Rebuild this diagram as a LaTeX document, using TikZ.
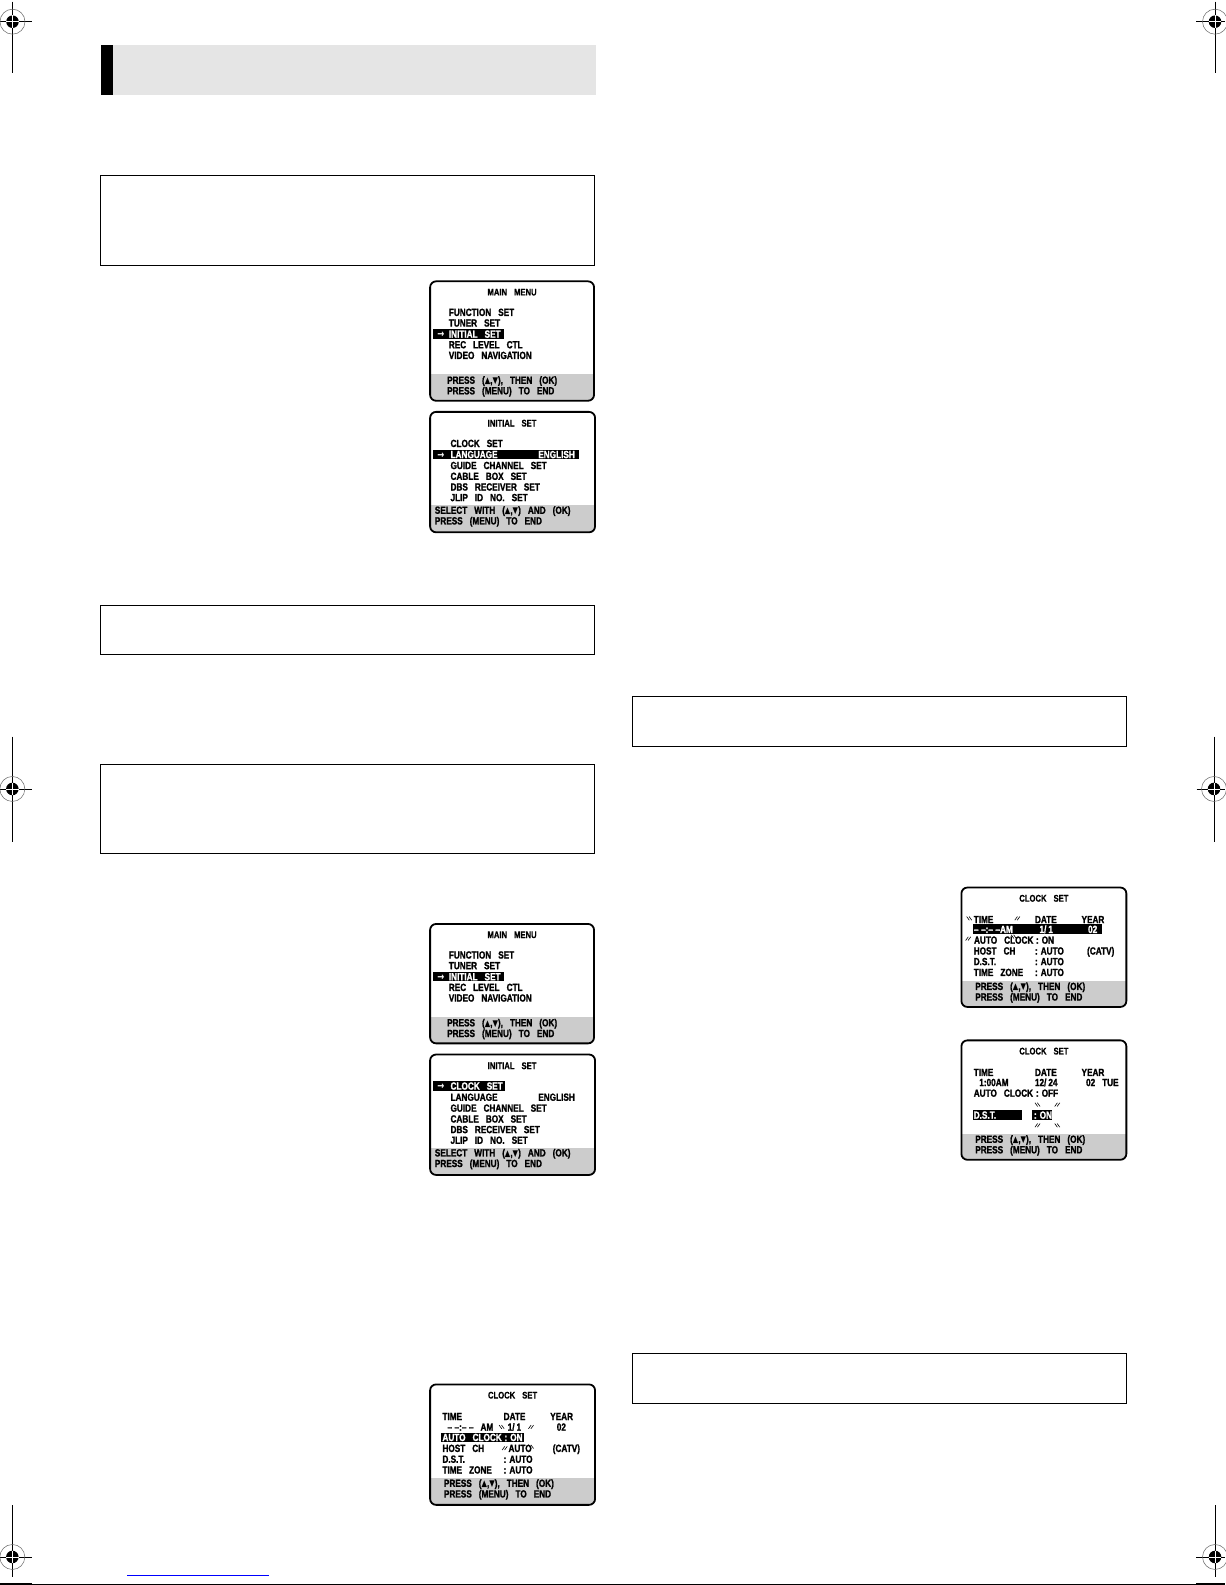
\documentclass[tikz,border=0pt]{standalone}
\usepackage{fontspec}
\usepackage{graphicx}
\newfontfamily\osdfont{Liberation Sans}[FakeStretch=0.79, BoldFeatures={FakeBold=1.4}]
\newfontfamily\osdtitlefont{Liberation Sans}[FakeStretch=0.79, BoldFeatures={FakeBold=0.6}]
\newfontfamily\osdsymfont{DejaVu Sans}[FakeStretch=0.8]

\newcommand{\osdup}{{\osdsymfont\scalebox{0.85}{▲}}}
\newcommand{\osddown}{{\osdsymfont\scalebox{0.85}{▼}}}
\newcommand{\osdarrow}{{\osdsymfont →}}
\newcommand{\osdwide}{\spaceskip=7pt\relax}

\tikzset{
  screen/.style={draw, line width=1.8pt, rounded corners=6pt},
  band/.style={fill=black!20},
  osd/.style={anchor=west, inner sep=0pt, text height=7.5pt, text depth=0pt,
    font=\osdfont\bfseries\fontsize{10.4}{11}\selectfont\osdwide},
  osdhi/.style={osd, text=white},
  osdband/.style={osd},
  osdtitle/.style={inner sep=0pt, text height=7pt, text depth=0pt,
    font=\osdtitlefont\bfseries\fontsize{9.7}{11}\selectfont\osdwide},
  textbox/.style={draw, line width=0.9pt},
  blink/.style={line width=0.6pt},
}

% screen outline with the gray help band at its foot
\newcommand{\screenframe}[3]{%
  \fill[white, rounded corners=6pt] (0,0) rectangle (#1,#2);
  \begin{scope}
    \clip[rounded corners=6pt] (0,0) rectangle (#1,#2);
    \fill[band] (0,#3) rectangle (#1,#2);
  \end{scope}
  \draw[screen] (0,0) rectangle (#1,#2);
}

% blinking marks
\newcommand{\blinkbs}[2]{\draw[blink] ({#1-2.8},{#2-1.8}) -- ({#1-0.2},{#2+1.8})
  ({#1-0.4},{#2-1.8}) -- ({#1+2.2},{#2+1.8});}
\newcommand{\blinksl}[2]{\draw[blink] ({#1-2.8},{#2+1.8}) -- ({#1-0.2},{#2-1.8})
  ({#1-0.4},{#2+1.8}) -- ({#1+2.2},{#2-1.8});}

% registration mark: centre, vertical from/to, horizontal from/to
\newcommand{\regmark}[6]{%
  \draw[line width=0.7pt] (#1,#3) -- (#1,#4) (#5,#2) -- (#6,#2);
  \draw[black!60, line width=0.5pt] (#1,#2) circle (12.35);
  \fill (#1,#2) circle (6.2);
  \draw[white, line width=0.6pt] ({#1-6.2},#2) -- ({#1+6.2},#2) (#1,{#2-6.2}) -- (#1,{#2+6.2});
}

\newcommand{\mainmenu}{%
  \screenframe{162}{118}{91.5}
  \fill (2.7,47.3) rectangle (72.7,56.7);
  \node[osdtitle] (title) at (81,10.5) {MAIN MENU};
  \node[osd] (func) at (18.3,30.5) {FUNCTION SET};
  \node[osd] (tuner) at (18.3,41) {TUNER SET};
  \node[osdhi] (arrow) at (7,52) {\osdarrow};
  \node[osdhi] (initial) at (18.3,52) {INITIAL SET};
  \node[osd] (rec) at (18.3,62.5) {REC LEVEL CTL};
  \node[osd] (video) at (18.3,73) {VIDEO NAVIGATION};
  \node[osdband] (press) at (16.7,97.5) {PRESS (\osdup,\osddown), THEN (OK)};
  \node[osdband] (menu) at (16.7,108) {PRESS (MENU) TO END};
}

\newcommand{\initialset}[1]{%
  \screenframe{163}{119}{92}
  \ifnum#1=1
    \fill (2.7,26.3) rectangle (74,35.7);
    \colorlet{rowA}{white}\colorlet{rowB}{black}
    \node[osdhi] (arrow) at (7,31) {\osdarrow};
  \else
    \fill (2.7,37.3) rectangle (146.7,46.7);
    \colorlet{rowA}{black}\colorlet{rowB}{white}
    \node[osdhi] (arrow) at (7,42) {\osdarrow};
  \fi
  \node[osdtitle] (title) at (81,11) {INITIAL SET};
  \node[osd, text=rowA] (clock) at (20,31) {CLOCK SET};
  \node[osd, text=rowB] (lang) at (20,42) {LANGUAGE};
  \node[osd, text=rowB] (english) at (106.7,42) {ENGLISH};
  \node[osd] (guide) at (20,52.8) {GUIDE CHANNEL SET};
  \node[osd] (cable) at (20,63.5) {CABLE BOX SET};
  \node[osd] (dbs) at (20,74) {DBS RECEIVER SET};
  \node[osd] (jlip) at (20,84.5) {JLIP ID NO. SET};
  \node[osdband] (select) at (4.5,97) {SELECT WITH (\osdup,\osddown) AND (OK)};
  \node[osdband] (menu) at (4.5,107.5) {PRESS (MENU) TO END};
}

\newcommand{\clockhead}{%
  \node[osdtitle] (title) at (81.5,10.5) {CLOCK SET};
  \node[osd] (time) at (12,31.5) {TIME};
  \node[osd] (date) at (72.5,31.5) {DATE};
  \node[osd] (year) at (118.5,31.5) {YEAR};
  \node[osdband] (press) at (13.5,97.5) {PRESS (\osdup,\osddown), THEN (OK)};
  \node[osdband] (menu) at (13.5,108) {PRESS (MENU) TO END};
}

\begin{document}
\begin{tikzpicture}[x=1.012pt, y=-1.012pt]
\useasboundingbox (0,0) rectangle (1210.5,1566.2);
\fill[white] (0,0) rectangle (1210.5,1566.2);

% page furniture
\regmark{12.35}{21.44}{1.7}{72.1}{0}{31.6}
\regmark{1200.6}{21.44}{1.7}{72.1}{1181.8}{1210.5}
\regmark{12.2}{779.6}{728}{831.7}{0}{31.3}
\regmark{1199.6}{779.6}{728}{831.7}{1182.5}{1210.5}
\regmark{12.2}{1538.5}{1487.2}{1558.3}{0}{31.6}
\regmark{1200.6}{1538.5}{1487.2}{1558.3}{1181.8}{1210.5}
\draw[line width=0.8pt] (0,1565.2) -- (1210.5,1565.2);
\draw[line width=2.4pt] (0,1565.2) -- (31.6,1565.2) (1181.8,1565.2) -- (1210.5,1565.2);
\draw[blue, line width=0.8pt] (125.5,1556.3) -- (265.8,1556.3);

% heading bar
\fill (100,44) rectangle (112,94);
\fill[black!10] (112,44) rectangle (589,94);

% text boxes
\draw[textbox] (99,173) rectangle (587,262);
\draw[textbox] (99,598) rectangle (587,647);
\draw[textbox] (99,755) rectangle (587,843);
\draw[textbox] (625,688) rectangle (1113,738);
\draw[textbox] (625,1337) rectangle (1113,1387);

% screens
\begin{scope}[shift={(425,278)}, name prefix=menuA-]
\mainmenu
\end{scope}
\begin{scope}[shift={(425,407)}, name prefix=initA-]
\initialset{2}
\end{scope}
\begin{scope}[shift={(425,913)}, name prefix=menuB-]
\mainmenu
\end{scope}
\begin{scope}[shift={(425,1042)}, name prefix=initB-]
\initialset{1}
\end{scope}

\begin{scope}[shift={(425,1368)}, name prefix=clockA-]
\screenframe{163}{119}{92.5}
\fill (11,47.7) rectangle (92.7,56.7);
\clockhead
\node[osd] (tval) at (17,42) {–\kern2.5pt–:–\kern2.5pt– AM};
\node[osd] (dval) at (76.5,42) {1/\kern2pt 1};
\node[osd] (yval) at (125,42) {02};
\node[osdhi] (auto) at (12,52.2) {AUTO CLOCK};
\node[osdhi] (aval) at (73.3,52.2) {:\kern3pt ON};
\node[osd] (host) at (12,63) {HOST CH};
\node[osd] (hval) at (77.3,63) {AUTO};
\node[osd] (catv) at (121,63) {(CATV)};
\node[osd] (dst) at (12,73.7) {D.S.T.};
\node[osd] (dstval) at (72.5,73.7) {:\kern3pt AUTO};
\node[osd] (zone) at (12,84.3) {TIME ZONE};
\node[osd] (zval) at (72.5,84.3) {:\kern3pt AUTO};
\blinkbs{71}{42}
\blinksl{100}{42}
\blinksl{74}{63}
\blinkbs{100}{61.5}
\end{scope}

\begin{scope}[shift={(950,877)}, name prefix=clockB-]
\screenframe{163}{118}{92.5}
\fill (11,36.5) rectangle (139,45.8);
\clockhead
\node[osdhi] (tval) at (12.3,41.2) {–\kern2.5pt–:–\kern2.5pt–AM};
\node[osdhi] (dval) at (77,41.2) {1/\kern2pt 1};
\node[osdhi] (yval) at (125,41.2) {02};
\node[osd] (auto) at (12.3,51.8) {AUTO CLOCK};
\node[osd] (aval) at (73.5,51.8) {:\kern3pt ON};
\node[osd] (host) at (12,62.5) {HOST CH};
\node[osd] (hval) at (72.5,62.5) {:\kern3pt AUTO};
\node[osd] (catv) at (124,62.5) {(CATV)};
\node[osd] (dst) at (12,73) {D.S.T.};
\node[osd] (dstval) at (72.5,73) {:\kern3pt AUTO};
\node[osd] (zone) at (12,83.7) {TIME ZONE};
\node[osd] (zval) at (72.5,83.7) {:\kern3pt AUTO};
\blinkbs{8}{30.5}
\blinksl{55.5}{30.5}
\blinksl{7}{50.5}
\blinkbs{52}{48.5}
\end{scope}

\begin{scope}[shift={(950,1028)}, name prefix=clockC-]
\screenframe{163}{118}{92.5}
\fill (11,69) rectangle (59.5,78.4);
\fill (69.5,69) rectangle (90,78.4);
\clockhead
\node[osd] (tval) at (17.5,41.5) {1:00AM};
\node[osd] (dval) at (72.5,41.5) {12/\kern2pt 24};
\node[osd] (yval) at (123,41.5) {02 TUE};
\node[osd] (auto) at (12,52) {AUTO CLOCK};
\node[osd] (aval) at (73.5,52) {:\kern3pt OFF};
\node[osdhi] (dst) at (12,73.7) {D.S.T.};
\node[osdhi] (dstval) at (71.5,73.7) {:\kern3pt ON};
\blinkbs{75.5}{63.5}
\blinksl{95}{63.5}
\blinksl{75.5}{84}
\blinkbs{95}{84}
\end{scope}

\end{tikzpicture}
\end{document}
